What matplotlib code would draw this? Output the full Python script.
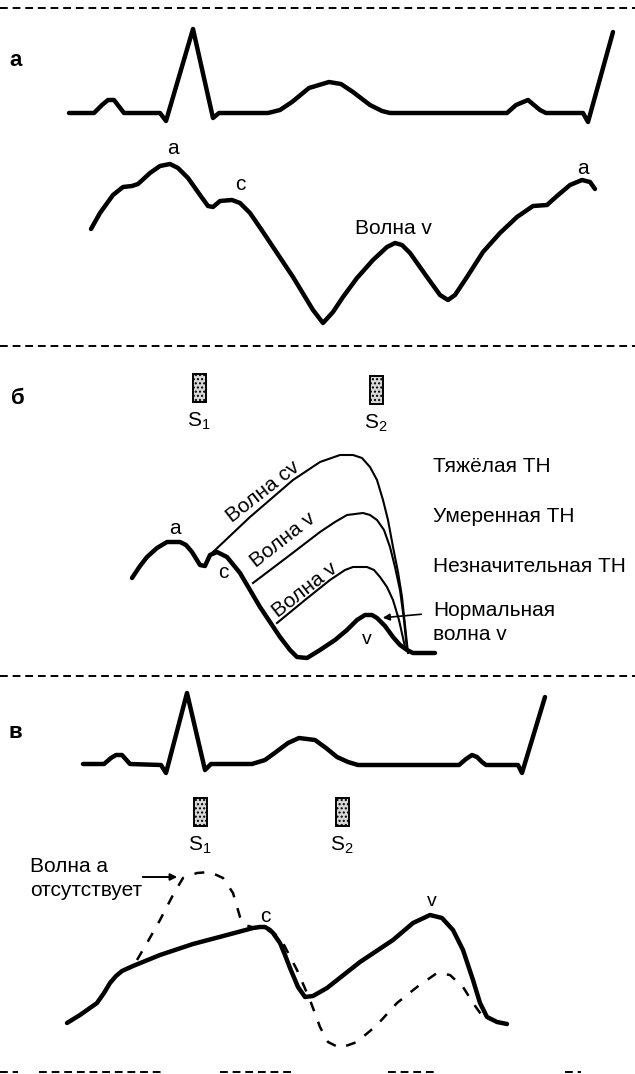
import numpy as np
import matplotlib
matplotlib.use("Agg")
import matplotlib.pyplot as plt
from matplotlib.patches import Rectangle

plt.rcParams['font.family'] = ['Liberation Sans', 'DejaVu Sans']
plt.rcParams['mathtext.fontset'] = 'custom'
plt.rcParams['mathtext.rm'] = 'Liberation Sans'

# --- panel a: ECG and jugular pulse (canvas units, y down) ---
ecg_a_x = [69, 94, 102, 108, 114, 124, 160, 166, 193, 213, 219, 268, 280, 292, 309, 329, 341, 353, 370, 382, 390,
           507, 516, 528, 540, 546, 583, 588, 613]
ecg_a_y = [113, 113, 105, 100, 100, 113, 113, 121, 29, 118, 113, 113, 110, 102, 88, 82, 84, 92, 105, 111, 113,
           113, 105, 100, 110, 113, 113, 122, 32]

jvp_a_x = [91, 100, 113, 123, 132, 138, 150, 160, 170, 178, 188, 200, 208, 213, 220, 232, 240, 250, 263, 293, 313,
           323, 333, 343, 357, 373, 387, 395, 402, 410, 427, 440, 448, 455, 467, 483, 500, 517, 533, 547, 557, 570,
           582, 590, 595]
jvp_a_y = [229, 213, 195, 187, 186, 184, 173, 166, 164, 168, 178, 195, 206, 207, 201, 200, 203, 213, 232, 277, 310,
           323, 312, 297, 278, 260, 247, 243, 245, 253, 277, 295, 300, 295, 277, 252, 233, 217, 206, 205, 196, 185,
           180, 182, 189]

# --- panel b: tricuspid regurgitation grades ---
norm_b_x = [132, 140, 147, 157, 167, 180, 186, 192, 200, 205, 210, 217, 227, 240, 260, 280, 290, 297, 307, 320, 335,
            347, 357, 365, 372, 377, 385, 393, 400, 407, 413, 435]
norm_b_y = [578, 566, 557, 548, 542, 542, 545, 552, 565, 566, 555, 552, 557, 573, 607, 637, 650, 657, 658, 650, 640,
            630, 620, 615, 615, 618, 626, 637, 645, 650, 653, 653]

severe_x = [213, 250, 293, 320, 340, 353, 362, 370, 377, 383, 388, 393, 398, 402, 405, 408]
severe_y = [552, 517, 480, 462, 455, 455, 458, 467, 480, 500, 520, 547, 572, 597, 625, 653]
moder_x = [253, 290, 320, 335, 347, 363, 370, 377, 384, 390, 395, 400, 404, 407]
moder_y = [583, 555, 532, 522, 515, 513, 515, 520, 530, 547, 567, 590, 620, 650]
mild_x = [277, 305, 330, 345, 353, 367, 374, 380, 387, 393, 399, 405]
mild_y = [623, 600, 580, 570, 567, 567, 570, 577, 587, 600, 620, 647]

grade_labels = ['Тяжёлая ТН', 'Умеренная ТН', 'Незначительная ТН', 'Нормальная', 'волна v']
grade_label_y = [467, 517, 566, 610, 634]

# --- panel c: atrial fibrillation ---
ecg_c_x = [83, 104, 111, 116, 122, 130, 161, 166, 187, 205, 211, 252, 265, 276, 288, 299, 315, 326, 337, 348, 358,
           459, 466, 472, 477, 482, 486, 518, 522, 545]
ecg_c_y = [764, 764, 758, 755, 755, 764, 765, 773, 693, 770, 764, 764, 760, 752, 743, 738, 740, 748, 757, 762, 765,
           765, 759, 755, 757, 762, 765, 765, 773, 697]

af_x = [67, 80, 97, 104, 110, 116, 122, 133, 160, 193, 227, 253, 260, 265, 270, 273, 280, 285, 290, 298, 305, 313,
        327, 360, 393, 413, 430, 442, 453, 463, 473, 480, 487, 497, 507]
af_y = [1023, 1015, 1003, 993, 983, 976, 971, 966, 955, 944, 935, 928, 927, 927, 930, 933, 943, 955, 968, 987, 997,
        996, 988, 962, 940, 923, 915, 918, 930, 950, 980, 1003, 1017, 1022, 1024]

sinus_x = [137, 147, 160, 173, 183, 197, 210, 223, 233, 240, 245, 255, 265, 275, 283, 297, 310, 320, 328, 340, 357,
           377, 397, 417, 437, 450, 463, 473, 483]
sinus_y = [960, 943, 920, 895, 878, 873, 872, 878, 893, 917, 925, 928, 929, 934, 943, 970, 1000, 1027, 1042, 1048,
           1042, 1025, 1003, 987, 973, 975, 987, 1003, 1017]

sep_y = [8, 346, 676]
bottom_seg = [(0, 18), (39, 165), (220, 295), (388, 437), (565, 581)]

fig = plt.figure(figsize=(6.35, 10.74), dpi=100)
ax = fig.add_axes([0, 0, 1, 1])
ax.set_xlim(0, 635)
ax.set_ylim(1074, 0)
ax.axis('off')

K = 'black'
for y in sep_y:
    ax.plot([0, 635], [y, y], color=K, lw=1.4, ls=(0, (4, 2.5)))
for x0, x1 in bottom_seg:
    ax.plot([x0, x1], [1072, 1072], color=K, lw=1.4, ls=(0, (4, 2.5)))

thick = dict(color=K, lw=3.2, solid_joinstyle='round', solid_capstyle='round')
ax.plot(ecg_a_x, ecg_a_y, **thick)
ax.plot(jvp_a_x, jvp_a_y, **thick)
ax.plot(norm_b_x, norm_b_y, **thick)
ax.plot(ecg_c_x, ecg_c_y, **thick)
ax.plot(af_x, af_y, **thick)
ax.plot(sinus_x, sinus_y, color=K, lw=1.8, ls=(0, (4, 4.5)))

thin = dict(color=K, lw=1.5, solid_joinstyle='round')
ax.plot(severe_x, severe_y, **thin)
ax.plot(moder_x, moder_y, **thin)
ax.plot(mild_x, mild_y, **thin)

fs = 15
# panel letters
ax.text(16, 60, 'а', fontsize=16, fontweight='bold', ha='center', va='center')
ax.text(18, 398, 'б', fontsize=16, fontweight='bold', ha='center', va='center')
ax.text(15, 732, 'в', fontsize=16, fontweight='bold', ha='center', va='center')

# panel a labels
ax.text(173, 148, 'а', fontsize=fs, ha='center', va='center')
ax.text(240, 184, 'с', fontsize=fs, ha='center', va='center')
ax.text(393, 228, 'Волна v', fontsize=fs, ha='center', va='center')
ax.text(583, 169, 'а', fontsize=fs, ha='center', va='center')

# heart sound markers
for bx, by, lab in [(199, 388, 1), (376, 390, 2), (200, 812, 1), (342, 812, 2)]:
    ax.add_patch(Rectangle((bx - 6.5, by - 14), 13, 28, facecolor='#d8d8d8', edgecolor=K, lw=1.4, hatch='....'))
    ax.text(bx, by + 33, r'$\mathregular{S_%d}$' % lab, fontsize=fs, ha='center', va='center')

# panel b labels
ax.text(175, 528, 'а', fontsize=fs, ha='center', va='center')
ax.text(223, 573, 'с', fontsize=fs, ha='center', va='center')
ax.text(367, 640, 'v', fontsize=fs - 1, ha='center', va='center')
ax.text(263, 492, 'Волна cv', fontsize=fs, rotation=38, ha='center', va='center', rotation_mode='anchor')
ax.text(283, 540, 'Волна v', fontsize=fs, rotation=38, ha='center', va='center', rotation_mode='anchor')
ax.text(305, 590, 'Волна v', fontsize=fs, rotation=38, ha='center', va='center', rotation_mode='anchor')
for lab, ly in zip(grade_labels, grade_label_y):
    ax.text(433, ly, lab, fontsize=fs, ha='left', va='center')
ax.annotate('', xy=(380, 618), xytext=(424, 614),
            arrowprops=dict(arrowstyle='-|>', color=K, lw=1.2, mutation_scale=10))

# panel c labels
ax.text(265, 916, 'с', fontsize=fs, ha='center', va='center')
ax.text(432, 902, 'v', fontsize=fs - 1, ha='center', va='center')
ax.text(30, 866, 'Волна а', fontsize=fs, ha='left', va='center')
ax.text(30, 890, 'отсутствует', fontsize=fs, ha='left', va='center')
ax.annotate('', xy=(180, 877), xytext=(140, 877),
            arrowprops=dict(arrowstyle='-|>', color=K, lw=1.4, mutation_scale=10))

fig.savefig('out.png', dpi=100, facecolor='white')
